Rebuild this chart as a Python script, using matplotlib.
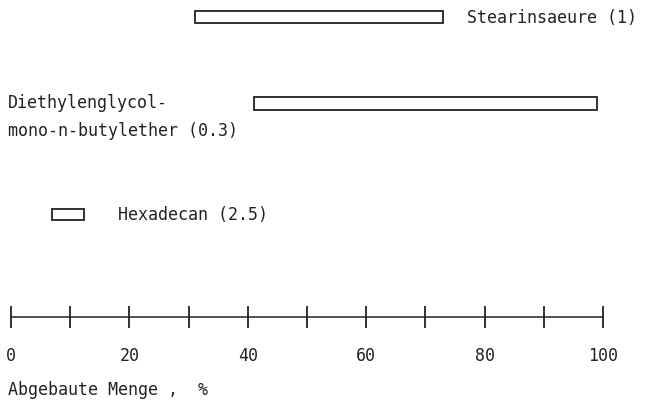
import matplotlib.pyplot as plt
import numpy as np

# degradation ranges (% degraded)
substances = ['Stearinsaeure (1)', 'Diethylenglycol-\nmono-n-butylether (0.3)', 'Hexadecan (2.5)']
range_start = [31, 41, 7]
range_end = [73, 99, 12.3]
major_ticks = [0, 20, 40, 60, 80, 100]
minor_ticks = [10, 30, 50, 70, 90]
xlabel = 'Abgebaute Menge ,  %'

plt.rcParams['font.family'] = ['DejaVu Sans Mono']

fig = plt.figure(figsize=(6.53, 4.06), dpi=100)
ax = fig.add_axes([0, 0, 1, 1])
ax.set_xlim(-11 / 5.92, 642 / 5.92)
ax.set_ylim(406, 0)

row_y = [18, 104, 215]
bar_h = [12, 13, 11]
starts = np.array(range_start)
widths = np.array(range_end) - starts
ax.barh(row_y, widths, left=starts, height=bar_h, facecolor='white',
        edgecolor='#222222', linewidth=1.3)

fs = 12
ax.text(77, row_y[0], substances[0], fontsize=fs, va='center', ha='left', color='#222222')
ax.text(-0.5, row_y[1] + 13, substances[1], fontsize=fs, va='center', ha='left',
        color='#222222', linespacing=1.7)
ax.text(18, row_y[2], substances[2], fontsize=fs, va='center', ha='left', color='#222222')

for s in ['top', 'left', 'right']:
    ax.spines[s].set_visible(False)
ax.spines['bottom'].set_position(('data', 318))
ax.spines['bottom'].set_bounds(0, 100)
ax.spines['bottom'].set_linewidth(1.1)
ax.spines['bottom'].set_color('#222222')
ax.set_yticks([])
ax.set_xticks(major_ticks)
ax.set_xticks(minor_ticks, minor=True)
ax.tick_params(axis='x', which='both', direction='inout', length=16, width=1.3,
               colors='#222222', labelsize=fs, pad=13)
ax.text(-0.5, 390, xlabel, fontsize=fs, va='center', ha='left', color='#222222')

fig.savefig('out.png', dpi=100)
